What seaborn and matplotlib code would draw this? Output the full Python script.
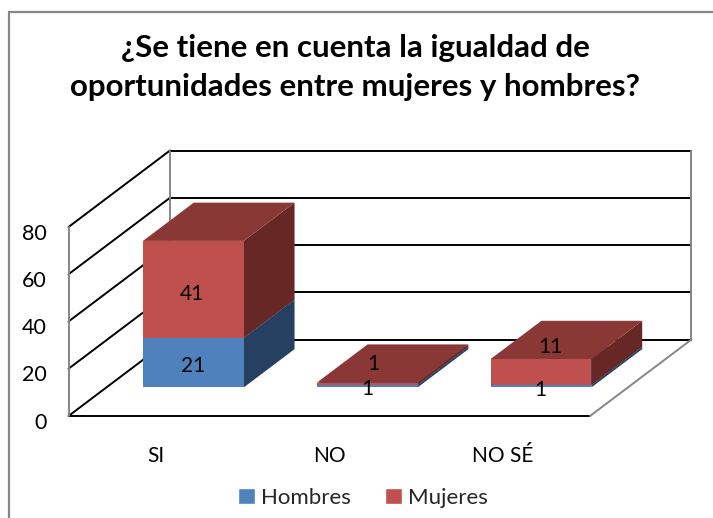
import matplotlib
matplotlib.use('Agg')
import matplotlib.pyplot as plt
from matplotlib.lines import Line2D
from matplotlib.patches import Polygon
from matplotlib.transforms import Affine2D, ScaledTranslation
import seaborn as sns

categories = ['SI', 'NO', 'NO SÉ']
hombres = [21, 1, 1]
mujeres = [41, 1, 11]
y_ticks = [0, 20, 40, 60, 80]
title = '¿Se tiene en cuenta la igualdad de\noportunidades entre mujeres y hombres?'

BLUE = '#4F81BD'
RED = '#C0504D'
BLUE_SIDE = '#254061'
BLUE_TOP = '#3A6190'
RED_SIDE = '#672825'
RED_TOP = '#8A3836'
GRAY = '#868686'

W, H = 713, 518
sns.set_theme(style='white')
plt.rcParams['font.family'] = ['Lato', 'DejaVu Sans']

fig = plt.figure(figsize=(W / 100, H / 100), dpi=100)
ax = fig.add_axes([68.5 / W, 1 - 416 / H, 521.5 / W, 189 / H])

# stacked front faces
sns.barplot(x=categories, y=hombres, color=BLUE, saturation=1, width=0.58, ax=ax, linewidth=0, edgecolor='none')
sns.barplot(x=categories, y=mujeres, bottom=hombres, color=RED, saturation=1, width=0.58, ax=ax, linewidth=0, edgecolor='none')
ax.set_xlim(-0.5, 2.5)
ax.set_ylim(0, 80)
ax.set_xlabel('')
ax.set_ylabel('')
ax.set_yticks(y_ticks)
sns.despine(ax=ax, left=True, bottom=True)
ax.patch.set_visible(False)
ax.tick_params(axis='y', length=0, pad=15.5, labelsize=15.5, labelcolor='black')
ax.tick_params(axis='x', length=0, pad=21.7, labelsize=15, labelcolor='black')
down = ScaledTranslation(0, -4.7 / 100, fig.dpi_scale_trans)
for lab in ax.get_yticklabels():
    lab.set_transform(lab.get_transform() + down)

# oblique depth in data units
DX = 101.5 / (521.5 / 3)
DY = 76.5 / (189 / 80)
BAR_D0 = 0.374
BAR_D1 = 0.874


def pt(x, y, d=0.0):
    return (x + d * DX, y + d * DY)


def line(p, q, color='black', lw=1.4, z=1):
    ax.add_line(Line2D([p[0], q[0]], [p[1], q[1]], color=color, lw=lw, zorder=z, clip_on=False))


x0, x1 = ax.get_xlim()
for v in y_ticks:
    line(pt(x0, v), pt(x0, v, 1))
    line(pt(x0, v, 1), pt(x1, v, 1))
line(pt(x0, 0), pt(x1, 0))
line(pt(x0, 0), pt(x0, 80), GRAY)
line(pt(x0, 0, 1), pt(x0, 80, 1), GRAY)
line(pt(x1, 0, 1), pt(x1, 80, 1), GRAY)
line(pt(x1, 0), pt(x1, 0, 1), GRAY)

# depth faces of each bar, and the front faces moved back to their place
shift = Affine2D().translate(BAR_D0 * DX, BAR_D0 * DY) + ax.transData
n = len(categories)
bars = list(ax.patches)
for i, bar in enumerate(bars):
    side, top = (BLUE_SIDE, BLUE_TOP) if i < n else (RED_SIDE, RED_TOP)
    xa, xb = bar.get_x(), bar.get_x() + bar.get_width()
    ya, yb = bar.get_y(), bar.get_y() + bar.get_height()
    ax.add_patch(Polygon([pt(xb, ya, BAR_D0), pt(xb, ya, BAR_D1), pt(xb, yb, BAR_D1), pt(xb, yb, BAR_D0)],
                         closed=True, fc=side, ec='none', zorder=2 + i, clip_on=False))
    ax.add_patch(Polygon([pt(xa, yb, BAR_D0), pt(xb, yb, BAR_D0), pt(xb, yb, BAR_D1), pt(xa, yb, BAR_D1)],
                         closed=True, fc=top, ec='none', zorder=2 + i, clip_on=False))
    bar.set_transform(shift)
    bar.set_clip_on(False)
    bar.set_zorder(10)

# value labels, nudged in pixels where they sit in the reference
nudges = [(0, -3.7), (0, -2.8), (-1, -4.2), (-1, -5), (6.6, 20), (9, 25.5)]
values = hombres + mujeres
for bar, value, nudge in zip(bars, values, nudges):
    xc = bar.get_x() + bar.get_width() / 2
    yc = bar.get_y() + bar.get_height() / 2
    ax.annotate(str(value), pt(xc, yc, BAR_D0), xytext=(nudge[0] * 0.72, nudge[1] * 0.72),
                textcoords='offset points', ha='center', va='center', fontsize=15,
                color='black', zorder=20, annotation_clip=False)

fig.text(355 / W, 1 - 67.5 / H, title, ha='center', va='center', fontsize=22.5,
         fontweight='bold', color='black', linespacing=1.52)

handles = [plt.Rectangle((0, 0), 1, 1, fc=BLUE), plt.Rectangle((0, 0), 1, 1, fc=RED)]
fig.legend(handles, ['Hombres', 'Mujeres'], loc='center', bbox_to_anchor=(363 / W, 1 - 497.5 / H),
           ncols=2, frameon=False, fontsize=16, handlelength=0.74, handleheight=0.74,
           handletextpad=0.27, columnspacing=1.55, borderpad=0, borderaxespad=0)

# chart frame: only the top and left edges are in the picture
fig.add_artist(Line2D([9 / W, 9 / W], [0, 1 - 12 / H], color=GRAY, lw=1.6))
fig.add_artist(Line2D([9 / W, 1], [1 - 12 / H, 1 - 12 / H], color=GRAY, lw=1.6))

fig.savefig('out.png', dpi=100, facecolor='white')
